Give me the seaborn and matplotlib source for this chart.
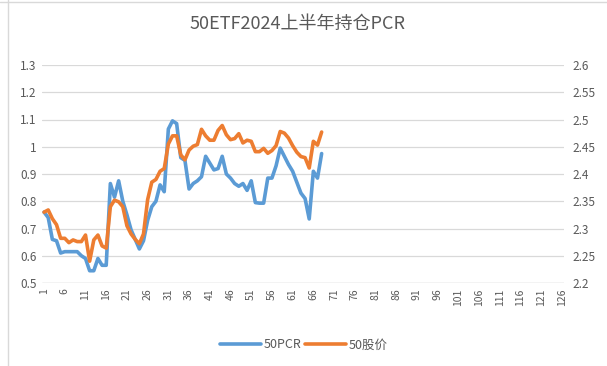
import numpy as np
import pandas as pd
import matplotlib
matplotlib.use('Agg')
import matplotlib.pyplot as plt
import seaborn as sns

#### data
categories = list(range(1, 127))
pcr = [0.76, 0.74, 0.66, 0.655, 0.61, 0.615, 0.615, 0.615, 0.615, 0.60,
       0.59, 0.545, 0.545, 0.59, 0.565, 0.565, 0.865, 0.815, 0.875, 0.80,
       0.75, 0.695, 0.66, 0.625, 0.655, 0.73, 0.78, 0.80, 0.86, 0.835,
       1.065, 1.095, 1.085, 0.96, 0.95, 0.845, 0.865, 0.875, 0.89, 0.965,
       0.94, 0.915, 0.92, 0.965, 0.90, 0.885, 0.865, 0.855, 0.865, 0.84,
       0.875, 0.795, 0.793, 0.793, 0.885, 0.885, 0.93, 0.995, 0.965, 0.935,
       0.91, 0.87, 0.83, 0.81, 0.735, 0.91, 0.885, 0.975]
price = [2.330, 2.334, 2.318, 2.307, 2.282, 2.282, 2.274, 2.279, 2.276, 2.276,
         2.288, 2.240, 2.279, 2.288, 2.268, 2.264, 2.340, 2.352, 2.349, 2.340,
         2.305, 2.290, 2.280, 2.272, 2.290, 2.353, 2.385, 2.390, 2.405, 2.410,
         2.455, 2.470, 2.470, 2.435, 2.426, 2.444, 2.451, 2.454, 2.482, 2.470,
         2.462, 2.462, 2.480, 2.489, 2.472, 2.463, 2.465, 2.474, 2.457, 2.462,
         2.460, 2.441, 2.441, 2.447, 2.438, 2.443, 2.452, 2.478, 2.475, 2.466,
         2.452, 2.440, 2.432, 2.430, 2.411, 2.460, 2.453, 2.477]
left_ticks = [0.5, 0.6, 0.7, 0.8, 0.9, 1.0, 1.1, 1.2, 1.3]
left_labels = ['0.5', '0.6', '0.7', '0.8', '0.9', '1', '1.1', '1.2', '1.3']
right_ticks = [2.2, 2.25, 2.3, 2.35, 2.4, 2.45, 2.5, 2.55, 2.6]
right_labels = ['2.2', '2.25', '2.3', '2.35', '2.4', '2.45', '2.5', '2.55', '2.6']
x_label_ticks = categories[::5]

df = pd.DataFrame({'x': categories[:len(pcr)], '50PCR': pcr, '50股价': price})

sns.set_theme(style='white')
plt.rcParams['font.family'] = ['Noto Sans CJK SC', 'DejaVu Sans']
grey = '#595959'

fig = plt.figure(figsize=(6.07, 3.66), dpi=100)
ax = fig.add_axes([42 / 607, 1 - 283 / 366, 522 / 607, 218 / 366])
ax2 = ax.twinx()

sns.lineplot(data=df, x='x', y='50PCR', ax=ax, color='#5B9BD5', linewidth=2.6, label='50PCR', legend=False)
sns.lineplot(data=df, x='x', y='50股价', ax=ax2, color='#ED7D31', linewidth=2.6, label='50股价', legend=False)

ax.set_xlim(0.5, 126.5)
ax.set_ylim(0.5, 1.3)
ax2.set_ylim(2.2, 2.6)
ax.set_yticks(left_ticks)
ax.set_yticklabels(left_labels, fontsize=8.5, color=grey)
ax2.set_yticks(right_ticks)
ax2.set_yticklabels(right_labels, fontsize=8.5, color=grey)
ax.set_xticks(x_label_ticks)
ax.set_xticklabels([str(v) for v in x_label_ticks], rotation=90, fontsize=7.5, color=grey)
ax.set_xlabel('')
ax.set_ylabel('')
ax2.set_ylabel('')
ax.tick_params(axis='both', length=0, pad=4)
ax2.tick_params(axis='y', length=0, pad=6)

ax.grid(axis='y', color='#d9d9d9', linewidth=0.9)
ax.set_axisbelow(True)
for a in (ax, ax2):
    for s in a.spines.values():
        s.set_visible(False)
ax.axhline(0.5, color='#d9d9d9', linewidth=1.0, zorder=1)

fig.text(0.49, 0.935, '50ETF2024上半年持仓PCR', ha='center', va='center', fontsize=13, color=grey)

h1, l1 = ax.get_legend_handles_labels()
h2, l2 = ax2.get_legend_handles_labels()
fig.legend(h1 + h2, l1 + l2, loc='center', bbox_to_anchor=(0.5, 1 - 345 / 366), ncol=2,
           frameon=False, fontsize=9, handlelength=3.3, handletextpad=0.2, columnspacing=0.3,
           labelcolor=grey)

#### spreadsheet cell borders around the chart
fig.add_artist(plt.Line2D([0, 1], [0.995, 0.995], transform=fig.transFigure, color='#d9d9d9', linewidth=1))
fig.add_artist(plt.Line2D([0.014, 0.014], [0, 1], transform=fig.transFigure, color='#d9d9d9', linewidth=1))

plt.savefig('out.png', dpi=100)
